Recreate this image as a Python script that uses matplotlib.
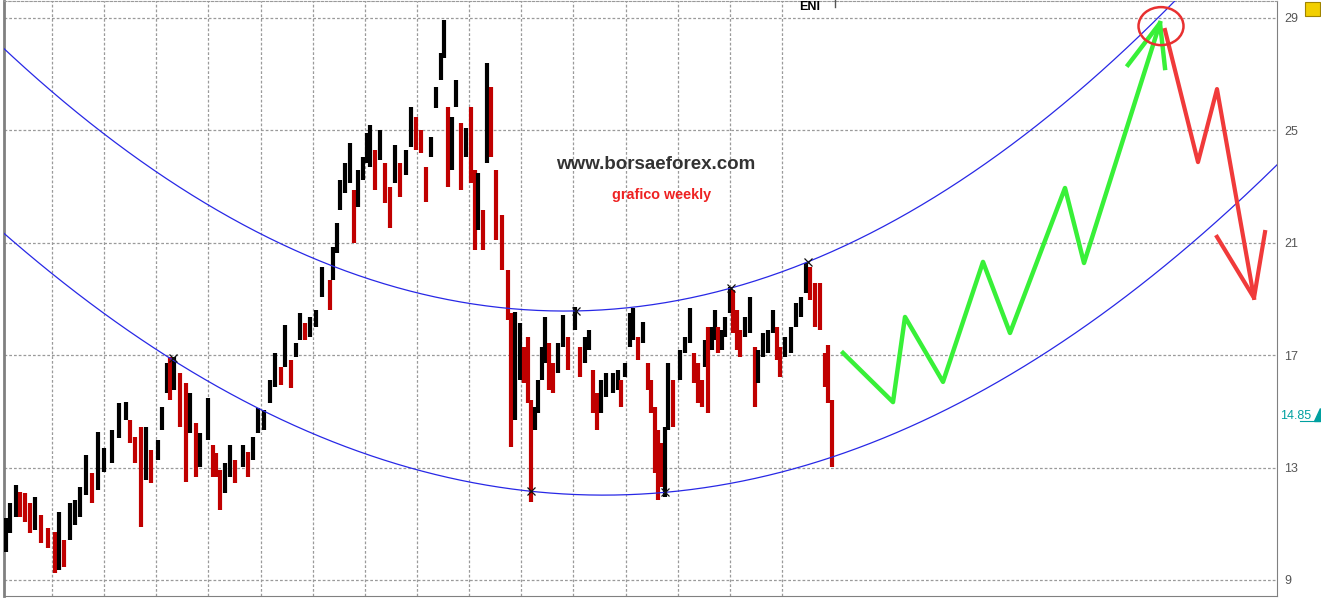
import numpy as np
import matplotlib.pyplot as plt
from matplotlib.patches import Ellipse, Polygon, Rectangle
from matplotlib.transforms import blended_transform_factory

plt.rcParams['font.family'] = ['Liberation Sans', 'DejaVu Sans']

# weekly ENI bars (time in weeks, price high / low)
bar_week = [6, 10, 16, 20, 25, 30, 35, 41, 48, 55,
            59, 64, 70, 75, 80, 86, 92, 98, 104, 112,
            119, 126, 130, 135, 141, 146, 151, 158, 162, 167,
            170, 174, 180, 186, 190, 196, 200, 208, 213, 216,
            220, 225, 230, 235, 243, 248, 253, 258, 264, 270,
            275, 281, 285, 291, 296, 300, 305, 310, 316, 322,
            330, 333, 337, 340, 345, 350, 354, 358, 363, 367,
            370, 375, 380, 385, 390, 395, 400, 406, 411, 416,
            421, 426, 431, 436, 441, 444, 448, 452, 456, 461,
            466, 471, 475, 478, 483, 487, 491, 496, 502, 508,
            511, 515, 520, 524, 528, 531, 535, 538, 542, 545,
            549, 553, 558, 563, 568, 575, 580, 585, 589, 593,
            597, 601, 606, 613, 618, 621, 625, 630, 633, 638,
            643, 648, 651, 655, 658, 661, 665, 668, 673, 680,
            685, 690, 694, 698, 702, 705, 708, 712, 715, 718,
            722, 725, 730, 733, 737, 740, 745, 750, 755, 758,
            763, 768, 773, 777, 780, 785, 791, 796, 801, 806,
            810, 815, 820, 825, 828, 832]
bar_high = [11.21, 11.74, 12.38, 12.13, 12.10, 11.74, 11.95, 11.31, 10.85, 10.71,
            11.42, 10.42, 11.74, 11.85, 12.31, 13.45, 12.81, 14.27, 13.70, 14.34,
            15.30, 15.33, 14.69, 14.09, 14.44, 14.44, 13.63, 13.98, 15.16, 16.72,
            16.94, 16.94, 16.37, 16.01, 15.65, 14.59, 14.23, 15.48, 13.80, 13.52,
            12.91, 13.16, 13.80, 13.27, 13.80, 13.55, 14.09, 15.12, 15.05, 16.12,
            17.08, 16.58, 18.07, 16.83, 17.43, 18.50, 18.15, 18.36, 18.61, 20.14,
            19.68, 20.85, 21.70, 23.23, 23.84, 24.55, 22.88, 23.59, 24.05, 24.91,
            25.19, 24.30, 25.01, 23.84, 22.99, 24.48, 23.84, 24.30, 25.83, 25.48,
            25.01, 23.70, 24.76, 26.54, 27.75, 28.93, 25.83, 25.48, 26.79, 25.26,
            25.08, 25.83, 23.59, 23.48, 22.17, 27.40, 26.54, 23.59, 21.99, 20.03,
            18.50, 18.54, 18.15, 17.29, 17.65, 15.41, 15.16, 16.12, 17.29, 18.36,
            17.43, 16.72, 17.43, 18.43, 17.65, 18.71, 17.29, 17.65, 17.90, 16.47,
            15.65, 16.12, 16.37, 16.37, 16.47, 16.12, 16.72, 18.50, 18.68, 17.65,
            18.18, 16.72, 16.12, 15.16, 14.34, 13.87, 14.44, 16.72, 16.12, 17.18,
            17.65, 18.68, 17.08, 16.72, 16.12, 17.54, 18.00, 18.00, 18.61, 18.00,
            17.90, 18.36, 19.43, 19.32, 18.61, 17.90, 18.36, 19.07, 17.29, 17.18,
            17.79, 17.90, 18.61, 18.00, 17.29, 17.65, 18.00, 18.86, 19.07, 20.28,
            20.14, 19.57, 19.57, 17.08, 17.36, 15.41]
bar_low = [10.00, 10.67, 11.24, 11.24, 11.06, 10.67, 10.78, 10.32, 10.14, 9.25,
           9.36, 9.46, 10.42, 10.96, 11.24, 12.02, 11.74, 12.20, 12.84, 13.16,
           14.05, 14.69, 13.87, 13.16, 10.89, 12.56, 12.45, 13.27, 14.34, 15.65,
           15.41, 15.76, 14.44, 12.49, 14.23, 12.66, 13.02, 13.98, 12.66, 12.66,
           11.49, 12.10, 12.66, 12.45, 13.02, 12.66, 13.27, 14.23, 14.34, 15.30,
           15.87, 15.94, 16.58, 15.83, 16.94, 17.54, 17.54, 17.65, 18.00, 19.07,
           18.61, 19.68, 20.64, 22.17, 22.77, 23.13, 20.99, 22.27, 23.23, 23.84,
           23.70, 22.88, 23.95, 22.42, 21.53, 23.13, 22.63, 23.41, 24.41, 24.30,
           24.20, 22.45, 24.05, 25.80, 26.79, 27.58, 22.99, 23.59, 25.83, 22.88,
           24.05, 23.13, 20.74, 21.45, 20.74, 23.84, 24.05, 21.10, 20.03, 18.25,
           13.73, 14.69, 16.12, 16.01, 15.30, 11.78, 14.34, 14.94, 16.12, 16.72,
           15.76, 15.65, 16.37, 17.29, 16.47, 17.90, 16.22, 16.72, 17.18, 14.94,
           14.34, 14.94, 15.51, 15.65, 15.76, 15.16, 16.22, 17.29, 17.54, 16.83,
           17.43, 15.76, 14.94, 12.81, 11.85, 12.31, 11.95, 14.34, 14.44, 16.12,
           17.08, 17.43, 16.01, 15.30, 15.16, 16.58, 14.94, 17.18, 17.54, 17.08,
           17.18, 17.65, 18.50, 17.79, 17.18, 16.94, 17.65, 17.79, 15.16, 16.01,
           16.94, 17.08, 17.79, 16.83, 16.22, 16.94, 17.08, 18.00, 18.36, 19.21,
           18.96, 18.00, 17.90, 15.87, 15.30, 13.02]
last_price = 14.85

# hand-drawn arcs
upper_arc_x = [0, 100, 200, 300, 400, 500, 565, 650, 750, 850, 950, 1050, 1150, 1190]
upper_arc_p = [28.04, 24.99, 22.52, 20.65, 19.38, 18.70, 18.57, 18.78, 19.59, 20.98,
               22.97, 25.55, 28.73, 30.16]
lower_arc_x = [0, 100, 200, 300, 400, 500, 600, 700, 800, 900, 1000, 1100, 1200, 1277]
lower_arc_p = [21.46, 18.59, 16.24, 14.41, 13.09, 12.30, 12.02, 12.26, 13.02, 14.30,
               16.09, 18.41, 21.24, 23.77]
upper_anchor_x = [576, 731, 808]
upper_anchor_p = [18.57, 19.39, 20.32]
lower_anchor_x = [173, 531, 665]
lower_anchor_p = [16.90, 12.17, 12.13]

# forecast zigzags
green_x = [843, 893, 905, 943, 983, 1010, 1065, 1084, 1160]
green_p = [17.08, 15.33, 18.36, 16.05, 20.32, 17.79, 22.95, 20.28, 28.82]
green_head_x = [1128, 1160, 1165]
green_head_p = [27.33, 28.82, 27.22]
red_x = [1165, 1198, 1217, 1254]
red_p = [28.57, 23.87, 26.47, 19.04]
red_head_x = [1217, 1254, 1265]
red_head_p = [21.21, 19.04, 21.38]
circle_x, circle_p = 1161, 28.71

price_ticks = [9, 13, 17, 21, 25, 29]
year_lines = 52 + 52.14 * np.arange(15)

W, H = 1321, 598
fig = plt.figure(figsize=(W / 100, H / 100), dpi=100)
ax = fig.add_axes([4 / W, 2 / H, 1273 / W, 595 / H])
ax.set_xlim(4, 1277)
ax.set_ylim(8.43, 29.604)

grid_kw = dict(color='#9a9a9a', lw=0.9, dashes=(2.2, 1.6), zorder=0)
for v in price_ticks:
    ax.axhline(v, **grid_kw)
for v in year_lines:
    ax.axvline(v, **grid_kw)

# bars coloured by direction
mid = (np.array(bar_high) + np.array(bar_low)) / 2
up = np.r_[True, np.diff(mid) >= 0]
colors = np.where(up, '#000000', '#c00000')
ax.vlines(bar_week, bar_low, bar_high, colors=colors, lw=3.0, zorder=3)

# arcs
xx = np.linspace(0, 1277, 400)
for arc_x, arc_p in [(upper_arc_x, upper_arc_p), (lower_arc_x, lower_arc_p)]:
    c = np.polyfit(arc_x, arc_p, 2)
    ax.plot(xx, np.polyval(c, xx), color='#2828e6', lw=0.9, zorder=4)
ax.plot(upper_anchor_x + lower_anchor_x, upper_anchor_p + lower_anchor_p, 'x',
        color='#111111', ms=6, mew=0.9, zorder=5)

# forecast
ax.plot(green_x, green_p, color='#38f038', lw=3.2, zorder=5)
ax.plot(green_head_x, green_head_p, color='#38f038', lw=3.2, zorder=5)
ax.plot(red_x, red_p, color='#f03a3a', lw=3.0, zorder=5)
ax.plot(red_head_x, red_head_p, color='#f03a3a', lw=3.0, zorder=5)
ax.add_patch(Ellipse((circle_x, circle_p), 45, 38 / 28.1, fill=False,
                     edgecolor='#e83030', lw=1.8, zorder=6))

ax.text(656, 23.78, 'www.borsaeforex.com', ha='center', va='center',
        fontsize=13.5, fontweight='bold', color='#333333')
ax.text(662, 22.69, 'grafico weekly', ha='center', va='center',
        fontsize=10.4, fontweight='bold', color='#ee2222')

# axis styling
ax.set_xticks([])
ax.yaxis.tick_right()
ax.set_yticks(price_ticks)
ax.set_yticklabels([str(v) for v in price_ticks])
ax.tick_params(axis='y', length=0, pad=5, labelsize=9, labelcolor='#555555')
for side in ['left', 'bottom', 'right']:
    ax.spines[side].set_color('#808080')
ax.spines['left'].set_linewidth(2)
ax.spines['top'].set_color('#9a9a9a')
ax.spines['top'].set_linestyle((0, (2.2, 1.6)))

tr = blended_transform_factory(ax.transAxes, ax.transData)
ax.text(1.0 + 3 / 1273, last_price, f'{last_price:.2f}', transform=tr, ha='left',
        va='center', fontsize=9, color='#00a0a0', clip_on=False)
fig.add_artist(Polygon([(1314 / W, 1 - 421 / H), (1320 / W, 1 - 421 / H),
                        (1320 / W, 1 - 408 / H)], closed=True, color='#00a0a0'))
fig.add_artist(plt.Line2D([1300 / W, 1320 / W], [1 - 421 / H, 1 - 421 / H],
                          color='#00a0a0', lw=0.8))
fig.add_artist(Rectangle((1305 / W, 1 - 16 / H), 15 / W, 14 / H,
                         facecolor='#f2cf00', edgecolor='#a08400', lw=0.8))

fig.text(810 / W, 1 - 7 / H, 'ENI', ha='center', va='center', fontsize=9,
         fontweight='bold', color='black')
fig.add_artist(plt.Line2D([835 / W, 835 / W], [1, 1 - 7 / H], color='#555555', lw=1))

fig.savefig('out.png', dpi=100)
